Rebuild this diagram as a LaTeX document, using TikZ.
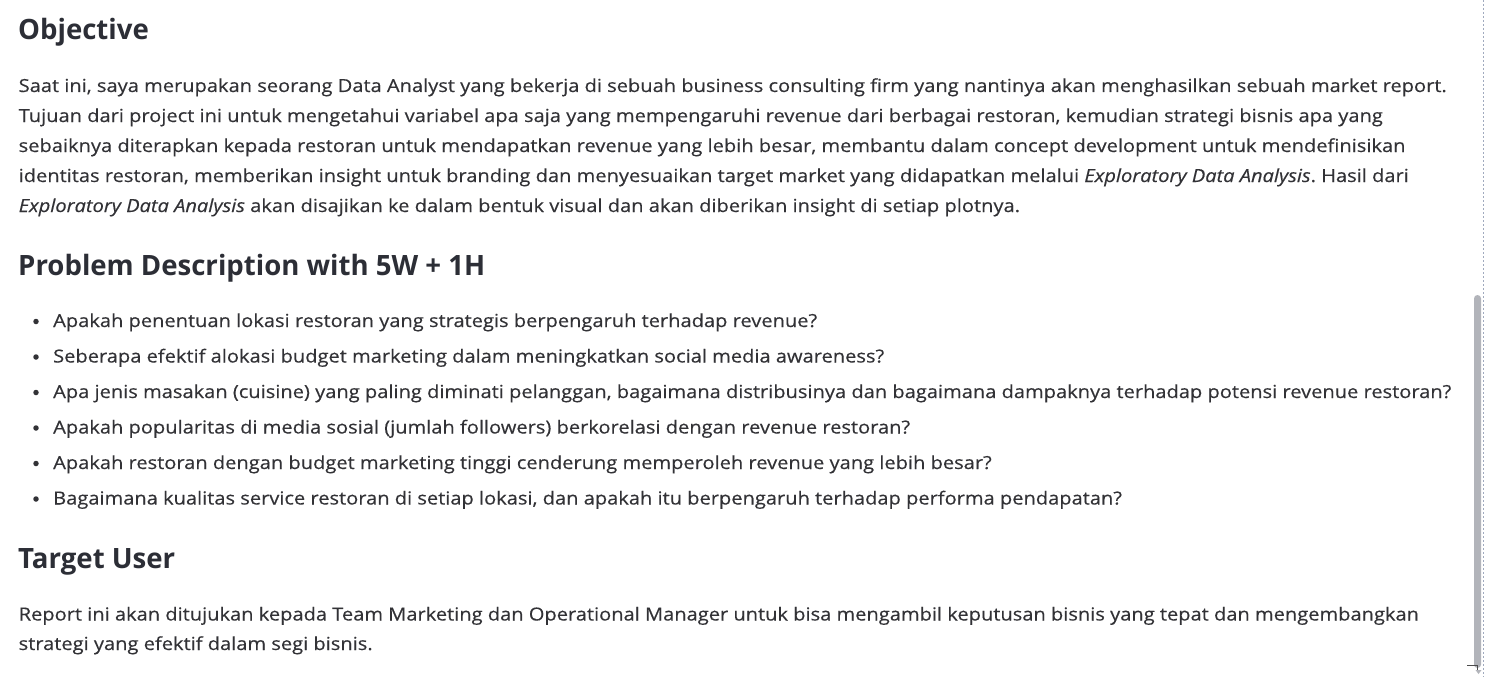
\documentclass[tikz,border=0pt]{standalone}
\usepackage{fontspec}
\usepackage{graphicx}
\setmainfont{Open Sans}
\newfontfamily\bodyfam{Open Sans}[FakeBold=0.3]
\definecolor{txt}{RGB}{50,50,54}
\definecolor{headc}{RGB}{44,46,54}
\definecolor{dashc}{RGB}{160,170,190}
\definecolor{scrollc}{RGB}{178,180,186}
\newcommand\bodyfnt{\bodyfam\fontsize{18}{22}\selectfont\frenchspacing}
\newcommand\headfnt{\fontsize{28}{34}\selectfont\bfseries}
\newlength\myreflen
\newcommand\myBL[1]{\scalebox{\bsx}[1]{\bodyfnt #1}}
\newcommand\myHL[1]{\scalebox{\hsx}[1]{\headfnt #1}}
\begin{document}
\settowidth\myreflen{\bodyfnt Saat ini, saya merupakan seorang Data Analyst yang bekerja di sebuah business consulting firm yang nantinya akan menghasilkan sebuah market report.}%
\pgfmathsetmacro\bsx{1428/\myreflen}%
\settowidth\myreflen{\headfnt Problem Description with 5W + 1H}%
\pgfmathsetmacro\hsx{467/\myreflen}%
\begin{tikzpicture}[x=1pt,y=-1pt,
  bodyline/.style={anchor=base west, inner sep=0pt, text=txt},
  headline/.style={anchor=base west, inner sep=0pt, text=headc},
  bulletdot/.style={circle, fill=txt, inner sep=0pt, minimum size=5.5pt}]
\useasboundingbox (0,0) rectangle (1485,677);
\fill[white] (0,0) rectangle (1485,677);
% headings
\node[headline] (h1) at (18,40) {\myHL{Objective}};
\node[headline] (h2) at (18,275) {\myHL{Problem Description with 5W + 1H}};
\node[headline] (h3) at (18,568) {\myHL{Target User}};
% objective paragraph
\node[bodyline] (p1) at (18.5,92) {\myBL{Saat ini, saya merupakan seorang Data Analyst yang bekerja di sebuah business consulting firm yang nantinya akan menghasilkan sebuah market report.}};
\node[bodyline] (p2) at (18.5,122) {\myBL{Tujuan dari project ini untuk mengetahui variabel apa saja yang mempengaruhi revenue dari berbagai restoran, kemudian strategi bisnis apa yang}};
\node[bodyline] (p3) at (18.5,152) {\myBL{sebaiknya diterapkan kepada restoran untuk mendapatkan revenue yang lebih besar, membantu dalam concept development untuk mendefinisikan}};
\node[bodyline] (p4) at (18.5,182) {\myBL{identitas restoran, memberikan insight untuk branding dan menyesuaikan target market yang didapatkan melalui \textit{Exploratory Data Analysis}. Hasil dari}};
\node[bodyline] (p5) at (18.5,212) {\myBL{\textit{Exploratory Data Analysis} akan disajikan ke dalam bentuk visual dan akan diberikan insight di setiap plotnya.}};
% bullets
\node[bulletdot] (d1) at (36,321.5) {};
\node[bodyline] (b1) at (53,327) {\myBL{Apakah penentuan lokasi restoran yang strategis berpengaruh terhadap revenue?}};
\node[bulletdot] (d2) at (36,357) {};
\node[bodyline] (b2) at (53,362.5) {\myBL{Seberapa efektif alokasi budget marketing dalam meningkatkan social media awareness?}};
\node[bulletdot] (d3) at (36,392.5) {};
\node[bodyline] (b3) at (53,398) {\myBL{Apa jenis masakan (cuisine) yang paling diminati pelanggan, bagaimana distribusinya dan bagaimana dampaknya terhadap potensi revenue restoran?}};
\node[bulletdot] (d4) at (36,428) {};
\node[bodyline] (b4) at (53,433.5) {\myBL{Apakah popularitas di media sosial (jumlah followers) berkorelasi dengan revenue restoran?}};
\node[bulletdot] (d5) at (36,463.5) {};
\node[bodyline] (b5) at (53,469) {\myBL{Apakah restoran dengan budget marketing tinggi cenderung memperoleh revenue yang lebih besar?}};
\node[bulletdot] (d6) at (36,499) {};
\node[bodyline] (b6) at (53,504.5) {\myBL{Bagaimana kualitas service restoran di setiap lokasi, dan apakah itu berpengaruh terhadap performa pendapatan?}};
% target user paragraph
\node[bodyline] (t1) at (18.5,620.5) {\myBL{Report ini akan ditujukan kepada Team Marketing dan Operational Manager untuk bisa mengambil keputusan bisnis yang tepat dan mengembangkan}};
\node[bodyline] (t2) at (18.5,650) {\myBL{strategi yang efektif dalam segi bisnis.}};
% right edge: dashed border and scrollbar
\draw[dashc, line width=1pt, dash pattern=on 2pt off 2pt] (1483.5,0) -- (1483.5,677);
\fill[scrollc, rounded corners=3.5pt] (1474,295) rectangle (1481,668);
\draw[black!70, line width=1pt] (1467,665.5) -- (1477.5,665.5) -- (1477.5,671);
\fill[scrollc] (1475.5,670) -- (1481.5,670) -- (1478.5,674) -- cycle;
\end{tikzpicture}
\end{document}
